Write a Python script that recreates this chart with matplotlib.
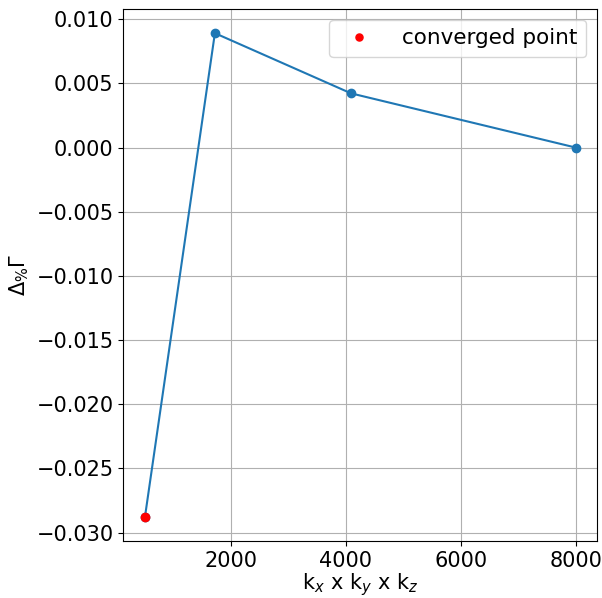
import matplotlib
matplotlib.use('Agg')
import matplotlib.pyplot as plt

# k-point grid sizes (kx*ky*kz) and relative change of Gamma
kpoints = [512, 1728, 4096, 8000]
delta_gamma = [-0.02878, 0.00891, 0.00422, 0.0]

# converged point
conv_k = [512]
conv_delta = [-0.02878]

plt.rcParams['font.size'] = 15

fig, ax = plt.subplots(figsize=(6.02, 5.98), dpi=100)
ax.plot(kpoints, delta_gamma, 'o-', color='C0', markersize=6)
ax.plot(conv_k, conv_delta, 'o', color='red', markersize=6, label='converged point')

ax.set_xlabel('k$_x$ x k$_y$ x k$_z$', labelpad=0)
ax.set_ylabel(r'$\Delta_{\%}\Gamma$')
ax.grid()
ax.legend(loc='upper right', markerscale=0.85, fontsize=15.5, handletextpad=1.0)

plt.subplots_adjust(left=0.205, right=0.992, top=0.985, bottom=0.095)
plt.savefig('out.png')
